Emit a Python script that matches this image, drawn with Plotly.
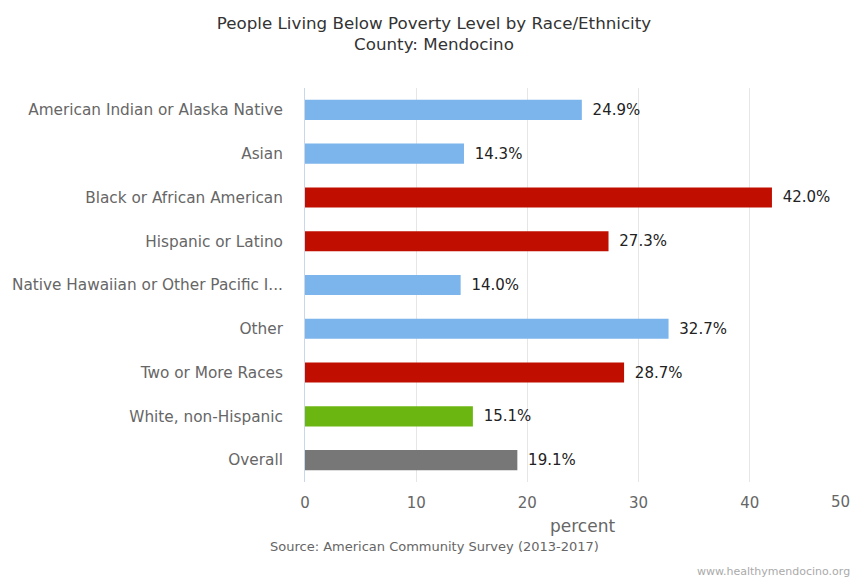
import plotly.graph_objects as go

categories = [
    "American Indian or Alaska Native",
    "Asian",
    "Black or African American",
    "Hispanic or Latino",
    "Native Hawaiian or Other Pacific I...",
    "Other",
    "Two or More Races",
    "White, non-Hispanic",
    "Overall",
]
values = [24.9, 14.3, 42.0, 27.3, 14.0, 32.7, 28.7, 15.1, 19.1]
bar_colors = ["#7cb5ec", "#7cb5ec", "#c00f00", "#c00f00", "#7cb5ec",
              "#7cb5ec", "#c00f00", "#6cb612", "#777777"]
x_ticks = [0, 10, 20, 30, 40]
x_max_label = 50
x_range = [0, 49.2]   # the 50 gridline sits just past the visible right edge
x_title = "percent"

FONT = "DejaVu Sans"

# page body has an 8px margin, so the figure is sized to fit inside it
W, H = 844, 570
L, R, T, B = 297, 0, 80, 96
PH = H - T - B

fig = go.Figure(go.Bar(
    y=categories,
    x=values,
    orientation="h",
    marker=dict(color=bar_colors, line=dict(width=0)),
    width=0.46,
    text=["\u00a0\u2009" + f"{v:.1f}%" for v in values],
    textposition="outside",
    textfont=dict(family=FONT, size=15, color="#222222"),
    cliponaxis=False,
    hoverinfo="x+y",
))

fig.update_layout(
    width=W, height=H,
    margin=dict(l=L, r=R, t=T, b=B),
    paper_bgcolor="white", plot_bgcolor="white",
    showlegend=False,
    font=dict(family=FONT),
    title=dict(
        text="People Living Below Poverty Level by Race/Ethnicity<br>County: Mendocino",
        x=426 / W, xanchor="center", y=1 - 20.5 / H, yanchor="top",
        font=dict(family=FONT, size=16.7, color="#333333"),
    ),
    xaxis=dict(
        range=x_range,
        tickvals=x_ticks,
        showgrid=True, gridcolor="#e6e6e6", gridwidth=1,
        zeroline=False, showline=False,
        tickfont=dict(family=FONT, size=15, color="#666666"),
        ticks="", ticklabelstandoff=10,
        fixedrange=True,
    ),
    yaxis=dict(
        autorange="reversed",
        showline=True, linecolor="#ccd6eb", linewidth=1,
        showgrid=False,
        tickfont=dict(family=FONT, size=15.3, color="#666666"),
        ticks="outside", ticklen=18, tickcolor="rgba(0,0,0,0)",
        fixedrange=True,
    ),
    annotations=[
        dict(text=str(x_max_label), x=1.0, xref="paper", y=(T + PH - 494) / PH, yref="paper",
             showarrow=False, xanchor="right", yanchor="middle",
             font=dict(family=FONT, size=15, color="#666666")),
        dict(text=x_title, x=x_max_label / 2, xref="x", y=(T + PH - 518) / PH, yref="paper",
             showarrow=False, xanchor="center", yanchor="middle",
             font=dict(family=FONT, size=17, color="#666666")),
        dict(text="Source: American Community Survey (2013-2017)",
             x=(426 - L) / (W - L - R), xref="paper", y=(T + PH - 538) / PH, yref="paper",
             xanchor="center", yanchor="middle",
             showarrow=False, font=dict(family=FONT, size=13, color="#666666")),
        dict(text="www.healthymendocino.org",
             x=1.0, xref="paper", y=(T + PH - 563) / PH, yref="paper", xanchor="right", yanchor="middle",
             showarrow=False, font=dict(family=FONT, size=11, color="#aaaaaa")),
    ],
)

fig.write_html("out.html", default_width="844px", default_height="570px")
